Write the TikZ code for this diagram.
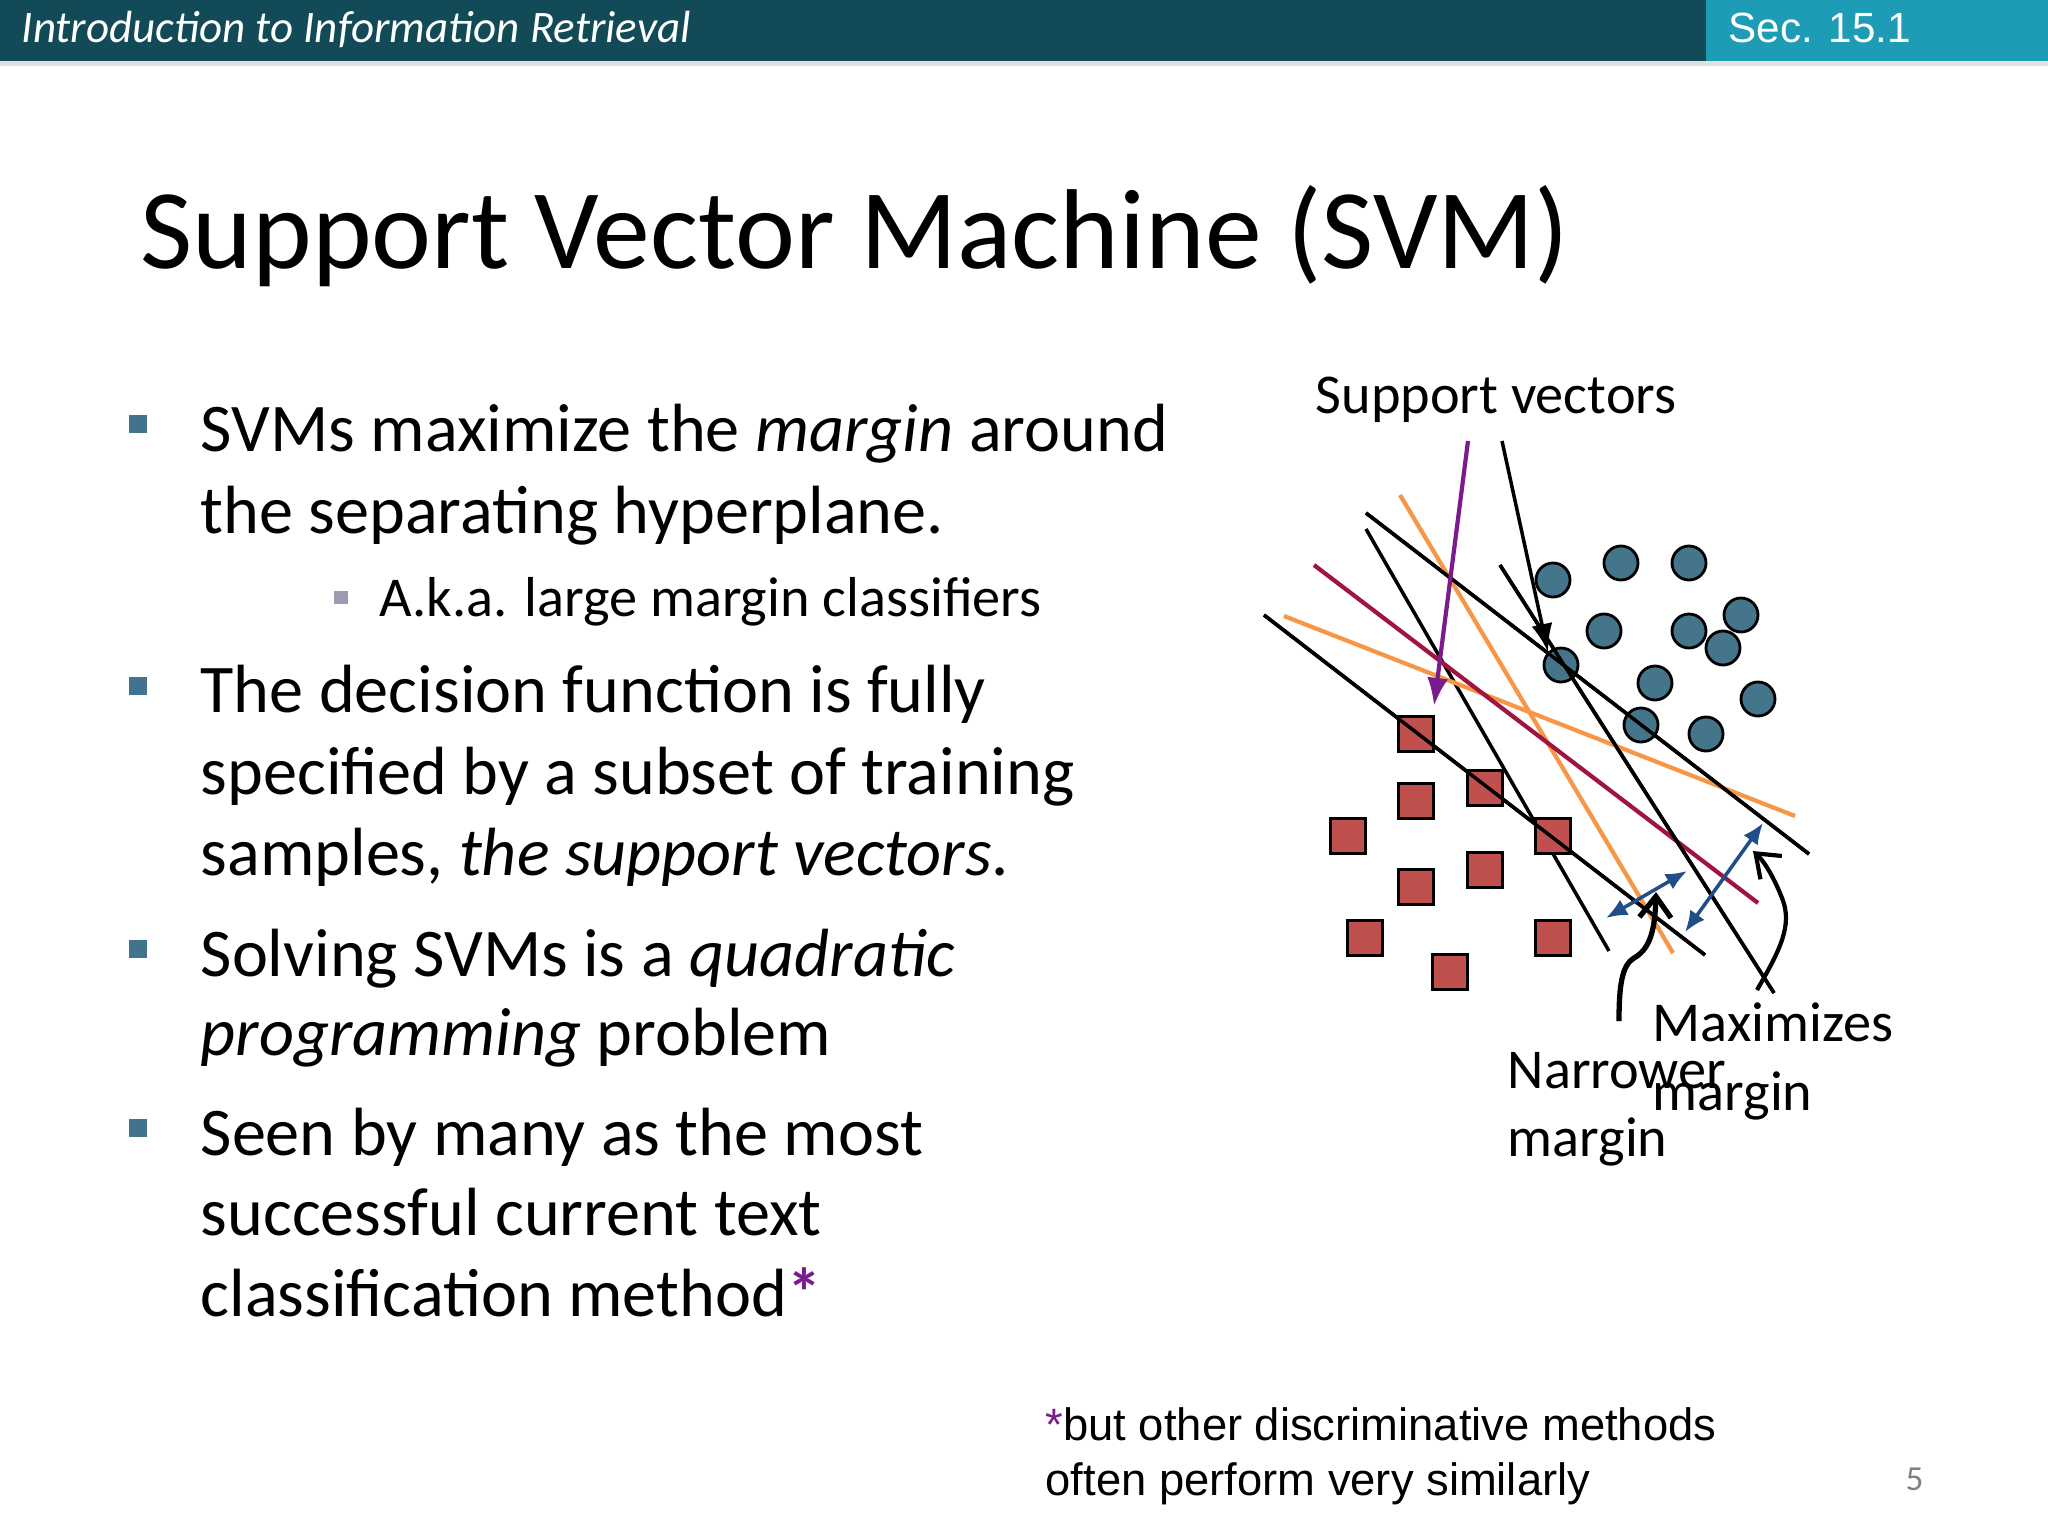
\documentclass[tikz,border=0pt]{standalone}
\usepackage{fontspec}
\setmainfont{Carlito}
\newfontfamily\arialf{Liberation Sans}
\usetikzlibrary{arrows.meta}
\definecolor{hdark}{HTML}{124B57}
\definecolor{hlight}{HTML}{1E9BB5}
\definecolor{bulc}{HTML}{41738F}
\definecolor{subc}{HTML}{9C9BB0}
\definecolor{circc}{HTML}{44758A}
\definecolor{sqc}{HTML}{C0504D}
\definecolor{orc}{HTML}{F79646}
\definecolor{marc}{HTML}{A0153E}
\definecolor{purc}{HTML}{7B1C8C}
\definecolor{bluc}{HTML}{1F4E89}
\tikzset{
 txt/.style={anchor=base west,inner sep=0pt},
 body/.style={txt,font=\fontsize{19.4}{24}\selectfont},
 bul/.style={fill=bulc,minimum size=0.18cm,inner sep=0pt},
 pt/.style={circle,draw=black,line width=0.8pt,fill=circc,minimum size=0.34cm,inner sep=0pt},
 sq/.style={draw=black,line width=0.8pt,fill=sqc,minimum size=0.35cm,inner sep=0pt},
 ln/.style={line width=1pt},
 lab/.style={txt,font=\fontsize{16}{19}\selectfont},
 blu/.style={bluc,line width=1pt,{Latex[length=6pt,width=5pt]}-{Latex[length=6pt,width=5pt]}}
}
\begin{document}
\begin{tikzpicture}[x=0.01cm,y=-0.01cm]
\useasboundingbox (0,0) rectangle (2048,1536);
\fill[white] (0,0) rectangle (2048,1536);
% header
\fill[black!12] (0,61) rectangle (2048,66);
\fill[hdark] (0,0) rectangle (1706,61);
\fill[hlight] (1706,0) rectangle (2048,61);
\node[txt,white,font=\fontsize{12.8}{14}\selectfont\itshape] (hdr) at (21,42) {Introduction to Information Retrieval};
\node[txt,white,font=\arialf\fontsize{12}{14}\selectfont] (sec) at (1728,42) {Sec. 15.1};
% title
\node[txt,font=\fontsize{32.3}{38}\selectfont] (title) at (140,268) {Support Vector Machine (SVM)};
% bullets
\node[bul] (b1) at (138,424) {};
\node[bul] (b2) at (138,686) {};
\node[bul] (b3) at (138,949) {};
\node[bul] (b4) at (138,1128) {};
\node[body] (t1) at (200,451) {SVMs maximize the \textit{margin} around};
\node[body] (t2) at (200,533) {the separating hyperplane.};
\node[fill=subc,minimum size=0.13cm,inner sep=0pt] (sb) at (341,597) {};
\node[txt,font=\fontsize{16}{19}\selectfont] (st) at (379,616) {A.k.a. large margin classifiers};
\node[body] (t3) at (200,712) {The decision function is fully};
\node[body] (t4) at (200,794) {specified by a subset of training};
\node[body] (t5) at (200,875) {samples, \textit{the support vectors}.};
\node[body] (t6) at (200,976) {Solving SVMs is a \textit{quadratic}};
\node[body] (t7) at (200,1055) {\textit{programming} problem};
\node[body] (t8) at (200,1155) {Seen by many as the most};
\node[body] (t9) at (200,1235) {successful current text};
\node[body] (t10) at (200,1316) {classification method\textcolor{purc}{\textbf{*}}};
% footnote
\node[txt,font=\arialf\fontsize{12.9}{14}\selectfont] (f1) at (1045,1440) {\textcolor{purc}{*}but other discriminative methods};
\node[txt,font=\arialf\fontsize{12.9}{14}\selectfont] (f2) at (1045,1495) {often perform very similarly};
\node[txt,gray,font=\fontsize{10}{12}\selectfont] (pg) at (1905,1490) {5};
% diagram lines
\coordinate (A1) at (1264,615); \coordinate (A2) at (1705,955);
\coordinate (B1) at (1366,513); \coordinate (B2) at (1809,854);
\coordinate (C1) at (1366,529); \coordinate (C2) at (1609,951);
\coordinate (D1) at (1500,565); \coordinate (D2) at (1774,993);
\coordinate (O1) at (1400,495); \coordinate (O2) at (1673,953);
\coordinate (P1) at (1284,616); \coordinate (P2) at (1795,816);
\coordinate (M1) at (1314,565); \coordinate (M2) at (1758,903);
\draw[ln] (A1) -- (A2);
\draw[ln] (B1) -- (B2);
\draw[ln] (C1) -- (C2);
\draw[ln] (D1) -- (D2);
\draw[ln,orc,line width=1.2pt] (O1) -- (O2);
\draw[ln,orc,line width=1.2pt] (P1) -- (P2);
\draw[ln,marc,line width=1.2pt] (M1) -- (M2);
% points
\foreach \n/\x/\y in {c1/1553/580,c2/1621/563,c3/1689/563,c4/1741/615,c5/1604/631,c6/1689/631,c7/1723/648,c8/1561/665,c9/1655/683,c10/1758/699,c11/1641/725,c12/1706/734}
 \node[pt] (\n) at (\x,\y) {};
\foreach \n/\x/\y in {s1/1416/734,s2/1485/788,s3/1416/801,s4/1348/836,s5/1553/836,s6/1485/870,s7/1416/887,s8/1365/938,s9/1553/938,s10/1450/972}
 \node[sq] (\n) at (\x,\y) {};
\draw[ln] (A1) -- (A2);
\draw[ln] (B1) -- (B2);
\draw[ln] (D1) -- (D2);
% labels and arrows
\node[lab] (sv) at (1315,413) {Support vectors};
\coordinate (pa) at (1468,441); \coordinate (ka) at (1502,441);
\draw[purc,line width=1.2pt,-{Latex[length=8pt,width=6pt]}] (pa) -- (1434,706);
\draw[line width=1pt,-{Latex[length=8pt,width=6pt]}] (ka) -- (c8.north west);
\coordinate (bl1) at (1606,918); \coordinate (bl2) at (1687,871);
\coordinate (bm1) at (1685,932); \coordinate (bm2) at (1763,823);
\draw[blu] (bl1) -- (bl2);
\draw[blu] (bm1) -- (bm2);
\coordinate (nr0) at (1619,1021); \coordinate (nrt) at (1656,892);
\draw[line width=1.5pt,-{Straight Barb[length=6pt,width=9pt]}] (nr0) .. controls (1619,985) and (1622,965) .. (1634,958) .. controls (1652,948) and (1655,925) .. (nrt);
\coordinate (mx0) at (1757,990); \coordinate (mxt) at (1753,851);
\draw[line width=1.2pt,-{Straight Barb[length=6pt,width=9pt]}] (mx0) .. controls (1780,950) and (1793,925) .. (1782,898) .. controls (1775,880) and (1765,862) .. (mxt);
\node[lab] (mxl1) at (1652,1041) {Maximizes};
\node[lab] (nrl1) at (1507,1088) {Narrower};
\node[lab] (mxl2) at (1652,1110) {margin};
\node[lab] (nrl2) at (1507,1156) {margin};
\end{tikzpicture}
\end{document}
